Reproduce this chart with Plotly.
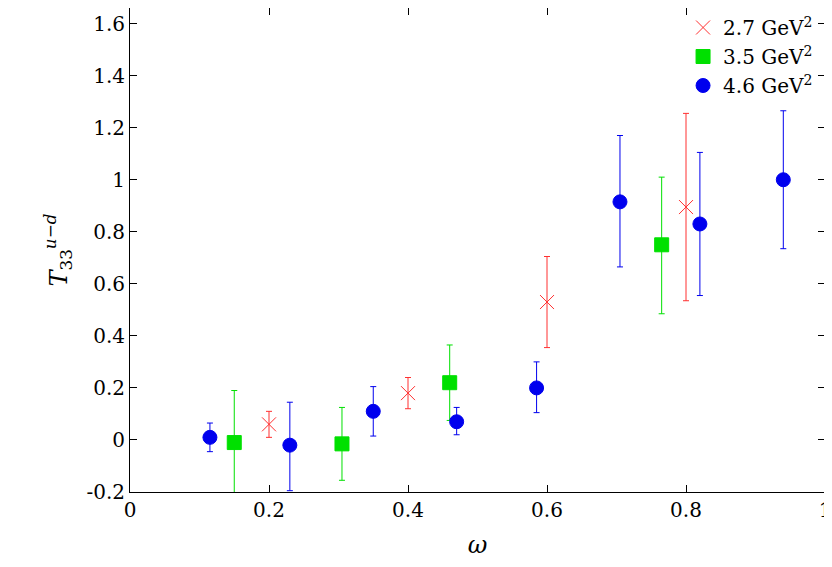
import plotly.graph_objects as go

# 2.7 GeV^2
w_27 = [0.2, 0.4, 0.6, 0.8]
t_27 = [0.06, 0.18, 0.53, 0.895]
hi_27 = [0.11, 0.24, 0.705, 1.255]
lo_27 = [0.01, 0.12, 0.355, 0.535]

# 3.5 GeV^2
w_35 = [0.15, 0.305, 0.46, 0.765]
t_35 = [-0.01, -0.015, 0.22, 0.75]
hi_35 = [0.19, 0.125, 0.365, 1.01]
lo_35 = [-0.21, -0.155, 0.075, 0.485]

# 4.6 GeV^2
w_46 = [0.115, 0.23, 0.35, 0.47, 0.585, 0.705, 0.82, 0.94]
t_46 = [0.01, -0.02, 0.11, 0.07, 0.2, 0.915, 0.83, 1.0]
hi_46 = [0.065, 0.145, 0.205, 0.125, 0.3, 1.17, 1.105, 1.265]
lo_46 = [-0.045, -0.195, 0.015, 0.02, 0.105, 0.665, 0.555, 0.735]

series = [
    ("2.7 GeV<sup>2</sup>", w_27, t_27, hi_27, lo_27, "#ff3030", "x-thin", 14),
    ("3.5 GeV<sup>2</sup>", w_35, t_35, hi_35, lo_35, "#00e000", "square", 14),
    ("4.6 GeV<sup>2</sup>", w_46, t_46, hi_46, lo_46, "#0000ee", "circle", 14),
]

fig = go.Figure()
for name, x, y, hi, lo, col, sym, size in series:
    fig.add_trace(go.Scatter(
        x=x, y=y, mode="markers", name=name,
        marker=dict(symbol=sym, size=size, color=col,
                    line=dict(color=col, width=1)),
        error_y=dict(type="data", symmetric=False,
                     array=[h - v for h, v in zip(hi, y)],
                     arrayminus=[v - l for l, v in zip(lo, y)],
                     color=col, thickness=1, width=3),
    ))

axis_common = dict(showline=True, linecolor="black", linewidth=1, mirror="ticks",
                   ticks="inside", ticklen=7, tickcolor="black", showgrid=False,
                   zeroline=False, tickfont=dict(size=20))
fig.update_layout(
    width=832, height=567,
    paper_bgcolor="white", plot_bgcolor="white",
    font=dict(family="DejaVu Serif", size=20, color="black"),
    margin=dict(l=122, r=15, t=0, b=83),
    showlegend=True,
    legend=dict(x=0.99, y=1.0, xanchor="right", yanchor="top",
                bgcolor="rgba(0,0,0,0)", font=dict(size=20)),
    xaxis=dict(range=[0, 1], title=dict(text="<i>ω</i>", standoff=15),
               tickvals=[0, 0.2, 0.4, 0.6, 0.8, 1],
               ticktext=["0", "0.2", "0.4", "0.6", "0.8", "1"], **axis_common),
    yaxis=dict(range=[-0.2, 1.66], title=dict(text="<i>T</i><sub>33</sub><sup><i>u−d</i></sup>", standoff=12),
               tickvals=[-0.2, 0, 0.2, 0.4, 0.6, 0.8, 1, 1.2, 1.4, 1.6],
               ticktext=["-0.2", "0", "0.2", "0.4", "0.6", "0.8", "1", "1.2", "1.4", "1.6"],
               **axis_common),
)

fig.write_html("out.html")
